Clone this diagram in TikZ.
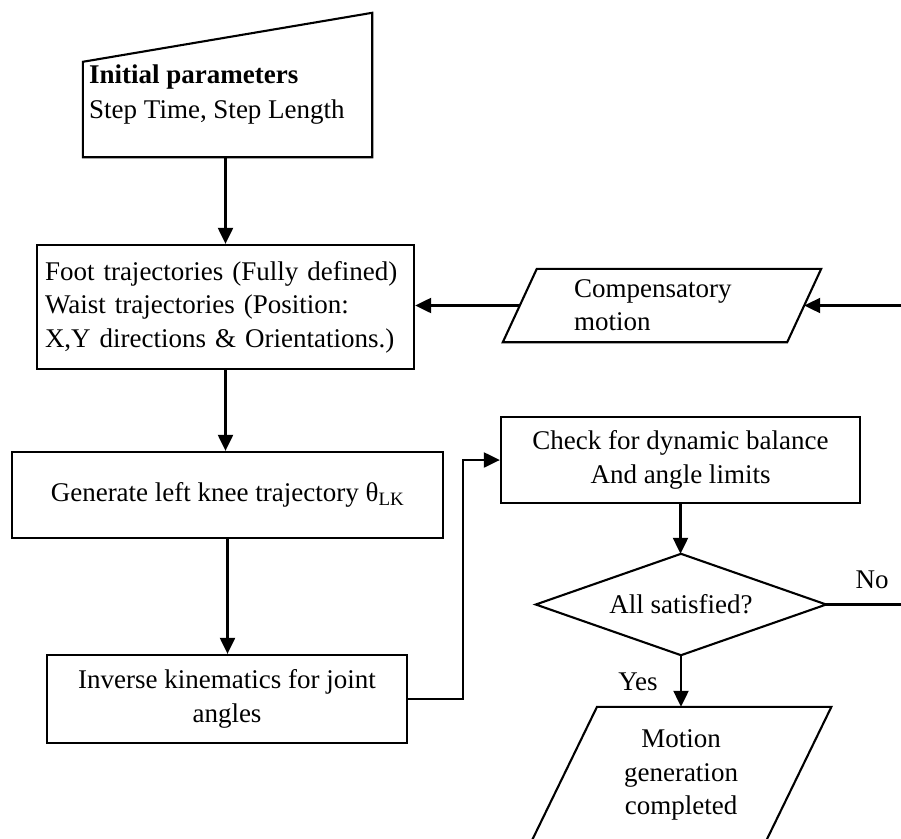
\documentclass[tikz,border=0pt]{standalone}
\usepackage{fontspec}
\setmainfont{Liberation Serif}
\usetikzlibrary{arrows.meta,calc}
\begin{document}
\begin{tikzpicture}[x=1pt,y=-1pt,
  every node/.style={font=\fontsize{27}{33.5}\selectfont},
  boxnode/.style={draw, line width=2.3pt, inner sep=0pt},
  shapenode/.style={inner sep=0pt},
  outline/.style={line width=2.1pt, line join=miter},
  conn/.style={line width=2.2pt, -{Triangle[length=16pt,width=15pt]}},
  plainline/.style={line width=2.2pt}]
\useasboundingbox (0,0) rectangle (901,838);
\clip (0,0) rectangle (901,838);
\coordinate (redge) at (901,0);

% manual input
\node[shapenode, minimum width=289pt, minimum height=144pt] (init) at (227.5,85) {};
\draw[outline] (init.south west) -- (init.south east) -- (init.north east) -- ([yshift=-49pt]init.north west) -- cycle;
\node[anchor=base west, inner sep=0pt, font=\fontsize{27}{33.5}\selectfont\bfseries] (inittitle) at (89,83) {Initial parameters};
\node[anchor=base west, inner sep=0pt] (initsub) at (89,118) {Step Time, Step Length};

% foot
\node[boxnode, minimum width=377pt, minimum height=124pt, text width=361pt, inner xsep=8pt, align=left] (foot) at (225.5,307)
  {Foot trajectories (Fully defined)\\Waist trajectories (Position:\\X,Y directions \& Orientations.)};

% compensatory
\node[shapenode, minimum width=284pt, minimum height=73pt] (comp) at (662,305.5) {};
\draw[outline] ([xshift=17pt]comp.north west) -- ([xshift=17pt]comp.north east) -- ([xshift=-17pt]comp.south east) -- ([xshift=-17pt]comp.south west) -- cycle;
\node[anchor=west, inner sep=0pt, align=left] (comptext) at (574,305) {Compensatory\\motion};

% generate
\node[boxnode, minimum width=431pt, minimum height=86pt] (gen) at (227.5,495) {Generate left knee trajectory θ\textsubscript{LK}};

% inverse
\node[boxnode, minimum width=360pt, minimum height=88pt, align=center] (inv) at (227,699) {Inverse kinematics for joint\\angles};

% check
\node[boxnode, minimum width=359pt, minimum height=86pt, align=center] (check) at (680.5,460) {Check for dynamic balance\\And angle limits};

% decision
\node[shapenode, minimum width=290pt, minimum height=101pt] (dia) at (681,604.5) {All satisfied?};
\draw[outline] (dia.north) -- (dia.east) -- (dia.south) -- (dia.west) -- cycle;

% output
\node[shapenode, minimum width=234pt, minimum height=136pt, align=center] (mot) at (681,775) {Motion\\generation\\completed};
\draw[outline] ([xshift=33.2pt]mot.north west) -- ([xshift=33.2pt]mot.north east) -- ([xshift=-33.2pt]mot.south east) -- ([xshift=-33.2pt]mot.south west) -- cycle;

% connectors
\draw[conn] (foot.north |- init.south) -- (foot.north);
\draw[conn] (foot.south) -- (foot.south |- gen.north);
\draw[conn] (gen.south) -- (gen.south |- inv.north);
\draw[conn] (inv.east) -- ++(55,0) |- (check.west);
\draw[conn] (check.south) -- (check.south |- dia.north);
\draw[conn] (dia.south) -- (dia.south |- mot.north);
\draw[plainline] (dia.east) -- (dia.east -| redge);
\draw[conn] (comp.east -| redge) -- (comp.east);
\draw[conn] (comp.west) -- (comp.west -| foot.east);

\node[anchor=base, inner sep=0pt] (nolabel) at (872,588) {No};
\node[anchor=base, inner sep=0pt] (yeslabel) at (638,690) {Yes};
\end{tikzpicture}
\end{document}
